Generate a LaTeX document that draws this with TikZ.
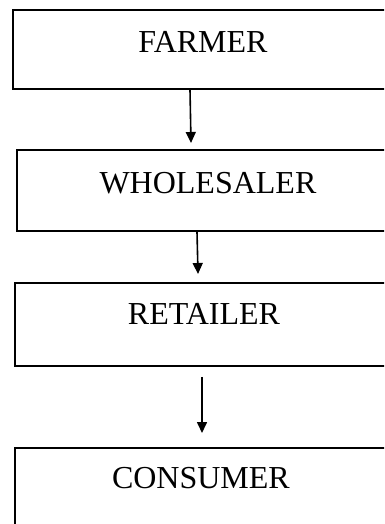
\documentclass[tikz,border=0pt]{standalone}
\usepackage{fontspec}
\setmainfont{Liberation Serif}
\usetikzlibrary{arrows.meta}
\begin{document}
\begin{tikzpicture}[x=1pt,y=1pt,
  stagebox/.style={draw=black, line width=1.9pt, inner sep=0pt, anchor=north west,
    font=\fontsize{32}{32}\selectfont, align=center},
  arr/.style={line width=1.6pt, -{Triangle[width=10pt,length=11pt]}}]
\useasboundingbox (0,0) rectangle (384,-524);
\clip (0,0) rectangle (384,-524);
\node[stagebox, text width=380pt, text height=43pt, text depth=36pt] (farmer) at (12,-9) {FARMER};
\node[stagebox, text width=382pt, text height=44pt, text depth=37pt] (whole) at (16,-149) {WHOLESALER};
\node[stagebox, text width=378pt, text height=42pt, text depth=41pt] (retail) at (14,-282) {RETAILER};
\node[stagebox, text width=372pt, text height=41pt, text depth=50pt] (consumer) at (14,-447) {CONSUMER};
\draw[arr] ([xshift=178pt]farmer.south west) -- ([xshift=175pt,yshift=6pt]whole.north west);
\draw[arr] ([xshift=181pt]whole.south west) -- ([xshift=184pt,yshift=8pt]retail.north west);
\draw[arr] ([xshift=188pt,yshift=-10pt]retail.south west) -- ([xshift=188pt,yshift=14pt]consumer.north west);
\end{tikzpicture}
\end{document}
